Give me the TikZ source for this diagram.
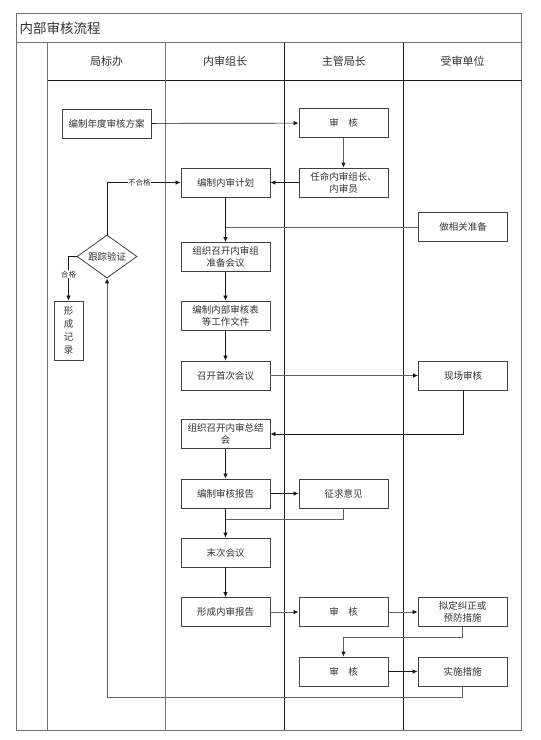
\documentclass[tikz,border=0pt]{standalone}
\usepackage{fontspec}
\setmainfont{Noto Sans CJK SC}
\usetikzlibrary{shapes.geometric,arrows.meta}

\begin{document}
\begin{tikzpicture}[x=1pt,y=-1pt,
  procBox/.style={draw=boxColor,line width=0.8pt,minimum width=89pt,minimum height=29pt,
    inner sep=1pt,align=center,font=\fontsize{9.5}{12}\selectfont,text=textColor},
  checkBox/.style={draw=boxColor,line width=0.8pt,diamond,aspect=1.4,minimum width=60pt,
    minimum height=43pt,inner sep=0pt,font=\fontsize{9.5}{12}\selectfont,text=textColor},
  flow/.style={draw=lineColor,line width=0.7pt,-{Latex[length=5pt,width=4.5pt,color=lineColor]}},
  flowGray/.style={draw=grayLine,line width=0.9pt,-{Latex[length=5pt,width=4.5pt,color=lineColor]}},
  join/.style={draw=lineColor,line width=0.7pt},
  joinGray/.style={draw=grayLine,line width=0.9pt},
  tag/.style={fill=white,inner sep=0.5pt,font=\fontsize{7.5}{8}\selectfont,text=textColor},
  laneHead/.style={font=\fontsize{11}{13}\selectfont,text=textColor}]
\definecolor{fillColor}{RGB}{255,255,255}
\definecolor{boxColor}{gray}{0.25}
\definecolor{textColor}{gray}{0.2}
\definecolor{lineColor}{gray}{0.1}
\definecolor{grayLine}{gray}{0.38}
\definecolor{frameColor}{gray}{0.45}
\path[use as bounding box,fill=fillColor] (0,0) rectangle (541,740);

% frame and lanes
\path[draw=frameColor,line width=1pt] (16.7,13.3) rectangle (521.7,730.3);
\path[draw=frameColor,line width=1pt] (16.7,42.7) -- (521.7,42.7);
\path[draw=lineColor,line width=0.8pt] (47.3,80.3) -- (521.7,80.3);
\path[draw=frameColor,line width=1pt] (47.3,42.7) -- (47.3,730.3);
\path[draw=frameColor,line width=1.1pt] (165.7,42.7) -- (165.7,730.3);
\path[draw=lineColor,line width=0.6pt] (284.3,42.7) -- (284.3,730.3);
\path[draw=lineColor,line width=0.6pt] (403.3,42.7) -- (403.3,730.3);

\node[anchor=west,inner sep=0pt,font=\fontsize{13.5}{15}\selectfont,text=textColor] (title) at (19.5,28) {内部审核流程};
\node[laneHead] (laneA) at (106.5,61.5) {局标办};
\node[laneHead] (laneB) at (225,61.5) {内审组长};
\node[laneHead] (laneC) at (343.8,61.5) {主管局长};
\node[laneHead] (laneD) at (462.5,61.5) {受审单位};

% steps
\node[procBox] (plan) at (106.5,123.5) {编制年度审核方案};
\node[procBox] (review1) at (343.5,123) {审\hspace{1em}核};
\node[procBox] (appoint) at (343.5,182.5) {任命内审组长、\\内审员};
\node[procBox] (audplan) at (225.5,182.5) {编制内审计划};
\node[procBox] (prepare) at (463,227) {做相关准备};
\node[procBox] (prepmeet) at (225.5,257) {组织召开内审组\\准备会议};
\node[checkBox] (track) at (107,256.5) {跟踪验证};
\node[procBox,minimum width=29pt,minimum height=59pt,font=\fontsize{9.5}{12.7}\selectfont] (record) at (68.5,330.5) {形\\成\\记\\录};
\node[procBox] (forms) at (225.5,315.5) {编制内部审核表\\等工作文件};
\node[procBox] (firstmeet) at (225.5,375.5) {召开首次会议};
\node[procBox] (onsite) at (463,375.5) {现场审核};
\node[procBox] (summeet) at (225.5,434) {组织召开内审总结\\会};
\node[procBox] (report) at (225.5,493.5) {编制审核报告};
\node[procBox] (opinion) at (343.5,493.5) {征求意见};
\node[procBox] (lastmeet) at (225.5,552.5) {末次会议};
\node[procBox] (final) at (225.5,612) {形成内审报告};
\node[procBox] (review2) at (343.5,612) {审\hspace{1em}核};
\node[procBox] (correct) at (462.5,612) {拟定纠正或\\预防措施};
\node[procBox] (review3) at (343.5,671.5) {审\hspace{1em}核};
\node[procBox] (execute) at (462.5,671.5) {实施措施};

% connectors
\draw[flow] (plan) -- (review1);
\draw[flowGray] (review1) -- (appoint);
\draw[flow] (appoint) -- (audplan);
\draw[flow] (audplan) -- (prepmeet);
\draw[joinGray] (prepare.west) -- (prepare.west -| audplan.south);
\draw[flow] (track.north) |- node[tag,pos=0.72] {不合格} (audplan.west);
\draw[flow] (track.west) -| node[tag,pos=0.7] {合格} (record.north);
\draw[flow] (prepmeet) -- (forms);
\draw[flow] (forms) -- (firstmeet);
\draw[flowGray] (firstmeet) -- (onsite);
\draw[flow] (onsite.south) |- (summeet.east);
\draw[flow] (summeet) -- (report);
\draw[flow] (report) -- (opinion);
\draw[flow] (report) -- (lastmeet);
\coordinate (merge) at (225.5,519);
\draw[joinGray] (opinion.south) |- (merge);
\draw[flow] (lastmeet) -- (final);
\draw[flowGray] (final) -- (review2);
\draw[flowGray] (review2) -- (correct);
\draw[flowGray] (correct.south) -- ++(0,11) -| (review3.north);
\draw[flow] (review3) -- (execute);
\draw[flowGray] (execute.south) -- ++(0,11) -| (track.south);
\end{tikzpicture}
\end{document}
